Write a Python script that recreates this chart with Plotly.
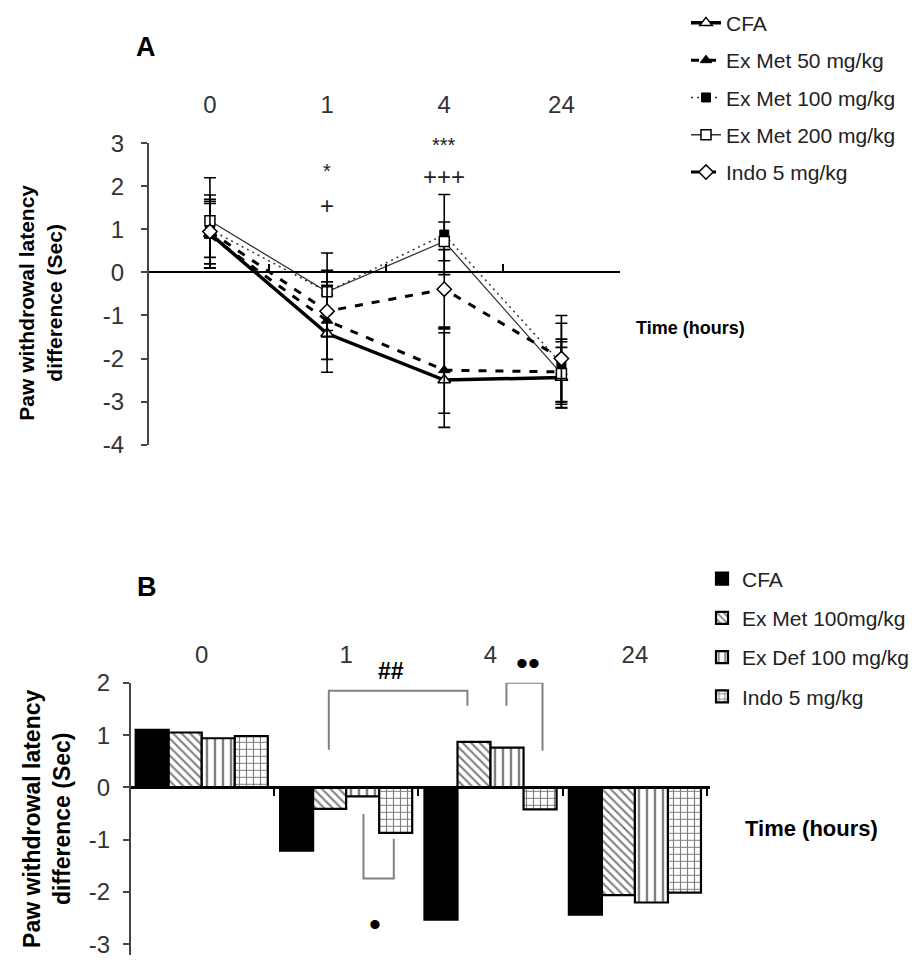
import plotly.graph_objects as go

W, H = 914, 968

# ---------------- data ----------------
time_labels = ["0", "1", "4", "24"]
xpos = [0, 1, 2, 3]

# Panel A (line chart)
a_names = ["CFA", "Ex Met 50 mg/kg", "Ex Met 100 mg/kg", "Ex Met 200 mg/kg", "Indo 5 mg/kg"]
a_cfa = [0.90, -1.42, -2.50, -2.44]
a_met50 = [0.85, -1.12, -2.27, -2.31]
a_met100 = [1.00, -0.45, 0.88, -2.12]
a_met200 = [1.20, -0.45, 0.72, -2.35]
a_indo = [0.95, -0.90, -0.39, -2.00]
a_cfa_err = [0.80, 0.90, 1.10, 0.70]
a_met50_err = [0.75, 0.90, 1.00, 0.70]
a_met100_err = [0.65, 0.90, 0.93, 0.94]
a_met200_err = [1.00, 0.50, 0.45, 0.80]
a_indo_err = [0.85, 0.60, 0.92, 1.00]
a_ytick_vals = [-4, -3, -2, -1, 0, 1, 2, 3]
a_ytick_text = ["-4", "-3", "-2", "-1", "0", "1", "2", "3"]

a_sig_text = ["*", "+", "***", "+++"]
a_sig_x = [1, 1, 2, 2]
a_sig_y = [2.35, 1.56, 2.96, 2.24]

# Panel B (bar chart)
b_names = ["CFA", "Ex Met 100mg/kg", "Ex Def 100 mg/kg", "Indo 5 mg/kg"]
b_cfa = [1.10, -1.21, -2.53, -2.43]
b_met100 = [1.05, -0.41, 0.87, -2.06]
b_def100 = [0.94, -0.17, 0.76, -2.20]
b_indo = [0.98, -0.87, -0.42, -2.01]
b_ytick_vals = [-3, -2, -1, 0, 1, 2]
b_ytick_text = ["-3", "-2", "-1", "0", "1", "2"]

b_bracket_x = [[0.88, 0.88, 1.84, 1.84], [2.11, 2.11, 2.36, 2.36], [1.12, 1.12, 1.33, 1.33]]
b_bracket_y = [[0.72, 1.85, 1.85, 1.56], [1.56, 2.00, 2.00, 0.70], [-0.51, -1.74, -1.74, -0.98]]
b_sig_text = ["##", "\u2022\u2022", "\u2022"]
b_sig_x = [1.31, 2.26, 1.20]
b_sig_y = [2.22, 2.37, -2.62]

# ---------------- layout geometry (pixels) ----------------
def px(x):
    return x / W

def py(y):
    return 1 - y / H

A_x0, A_x1, A_ytop, A_ybot = 149, 620, 133, 443
B_x0, B_x1, B_ytop, B_ybot = 131, 710, 688, 967.8
A_yr = [-4, 3]
B_yr = [-3.2, 2]
A_xr = [-0.52, 3.5]
B_xr = [-0.49, 3.52]

FONT = "Liberation Sans, Arial, sans-serif"

yA0, yA1 = py(A_ybot), py(A_ytop)
yB0, yB1 = py(B_ybot), py(B_ytop)


def a_to_paper(v):
    return yA0 + (yA1 - yA0) * (v - A_yr[0]) / (A_yr[1] - A_yr[0])


def b_to_paper(v):
    return yB0 + (yB1 - yB0) * (v - B_yr[0]) / (B_yr[1] - B_yr[0])


zeroA = a_to_paper(0)
zeroB = b_to_paper(0)

fig = go.Figure()

# ---------------- Panel A traces ----------------
a_vals = [a_cfa, a_met50, a_met100, a_met200, a_indo]
a_errs = [a_cfa_err, a_met50_err, a_met100_err, a_met200_err, a_indo_err]
a_line = [
    dict(color="black", width=3.5, dash="solid"),
    dict(color="black", width=3, dash="8px,9px"),
    dict(color="#333333", width=1.5, dash="2px,4px"),
    dict(color="#333333", width=1.3, dash="solid"),
    dict(color="black", width=3, dash="8px,9px"),
]
a_marker = [
    dict(symbol="triangle-up", size=11, color="white", line=dict(color="black", width=1.5)),
    dict(symbol="triangle-up", size=10, color="black", line=dict(color="black", width=1)),
    dict(symbol="square", size=9, color="black", line=dict(color="black", width=1)),
    dict(symbol="square", size=10, color="white", line=dict(color="black", width=1.5)),
    dict(symbol="diamond", size=11, color="white", line=dict(color="black", width=1.5)),
]
for i, name in enumerate(a_names):
    fig.add_trace(go.Scatter(
        x=xpos, y=a_vals[i], name=name, mode="lines+markers",
        line=a_line[i], marker=a_marker[i],
        error_y=dict(type="data", array=a_errs[i], color="black", thickness=1.6, width=6),
        xaxis="x", yaxis="y", legend="legend", legendgroup="a%d" % i,
    ))

# invisible helper so the zero-line axis of panel A is drawn
fig.add_trace(go.Scatter(x=xpos, y=a_cfa, mode="markers", marker=dict(opacity=0),
                         showlegend=False, hoverinfo="skip", xaxis="x3", yaxis="y"))

# ---------------- Panel B traces ----------------
b_vals = [b_cfa, b_met100, b_def100, b_indo]
b_pattern = [
    dict(shape=""),
    dict(shape="\\", size=6, solidity=0.35, fgcolor="black", bgcolor="white"),
    dict(shape="|", size=8, solidity=0.3, fgcolor="black", bgcolor="white"),
    dict(shape="+", size=7, solidity=0.3, fgcolor="black", bgcolor="white"),
]
for i, name in enumerate(b_names):
    fig.add_trace(go.Bar(
        x=xpos, y=b_vals[i], name=name,
        marker=dict(color="black" if i == 0 else "white",
                    line=dict(color="black", width=2.2), pattern=b_pattern[i]),
        xaxis="x2", yaxis="y2", legend="legend2", legendgroup="b%d" % i,
    ))

for bx, by in zip(b_bracket_x, b_bracket_y):
    fig.add_trace(go.Scatter(
        x=bx, y=by, mode="lines", line=dict(color="#808080", width=2),
        showlegend=False, hoverinfo="skip", xaxis="x2", yaxis="y2", cliponaxis=False,
    ))

fig.add_trace(go.Scatter(x=xpos, y=b_cfa, mode="markers", marker=dict(opacity=0),
                         showlegend=False, hoverinfo="skip", xaxis="x4", yaxis="y2"))

# ---------------- annotations ----------------
ann = []
for t, x, y in zip(a_sig_text, a_sig_x, a_sig_y):
    ann.append(dict(text=t, x=x, y=a_to_paper(y), xref="x", yref="paper", showarrow=False,
                    xanchor="center", yanchor="middle",
                    font=dict(family=FONT, size=24 if "+" in t else 20, color="#222222")))
for t, x, y in zip(b_sig_text, b_sig_x, b_sig_y):
    ann.append(dict(text="<b>%s</b>" % t if t == "##" else t, x=x, y=b_to_paper(y),
                    xref="x2", yref="paper", showarrow=False,
                    xanchor="center", yanchor="middle",
                    font=dict(family=FONT, size=23 if t == "##" else 34, color="black")))


def pann(text, x, y, size, xanchor="center", angle=0):
    return dict(text=text, x=px(x), y=py(y), xref="paper", yref="paper", showarrow=False,
                xanchor=xanchor, yanchor="middle", textangle=angle,
                font=dict(family=FONT, size=size, color="black"))


ytitle = "<b>Paw withdrowal latency<br>difference (Sec)</b>"
ann += [
    pann("<b>A</b>", 146, 34, 27),
    pann("<b>B</b>", 147, 589, 27),
    pann(ytitle, 40, 297, 21, angle=-90),
    pann(ytitle, 47, 828, 23, angle=-90),
    pann("<b>Time (hours)</b>", 634, 323, 18, xanchor="left"),
    pann("<b>Time (hours)</b>", 743, 838, 22, xanchor="left"),
]

tickfont = dict(family=FONT, size=24, color="#333333")

fig.update_layout(
    width=W, height=H, margin=dict(l=0, r=0, t=0, b=0),
    paper_bgcolor="white", plot_bgcolor="rgba(0,0,0,0)",
    font=dict(family=FONT, color="black"),
    barmode="group", bargap=0.085, bargroupgap=0,
    annotations=ann,
    # Panel A axes
    xaxis=dict(domain=[px(A_x0), px(A_x1)], range=A_xr, anchor="y", side="top",
               tickvals=xpos, ticktext=time_labels, ticks="", showline=False,
               showgrid=False, zeroline=False, tickfont=tickfont, ticklabelstandoff=24),
    yaxis=dict(domain=[yA0, yA1], range=A_yr, anchor="x", tickvals=a_ytick_vals,
               ticktext=a_ytick_text,
               showline=True, linecolor="#444444", linewidth=2, ticks="outside",
               ticklen=6, tickwidth=2, tickcolor="#444444", showgrid=False,
               zeroline=False, tickfont=tickfont, ticklabelstandoff=12),
    xaxis3=dict(overlaying="x", anchor="free", position=zeroA, range=A_xr,
                tickvals=[0.5, 1.5, 2.5, 3.5], ticks="inside", ticklen=7, tickwidth=2,
                tickcolor="black", showticklabels=False, showline=True,
                linecolor="black", linewidth=2, showgrid=False, zeroline=False),
    # Panel B axes
    xaxis2=dict(domain=[px(B_x0), px(B_x1)], range=B_xr, anchor="y2", side="top",
                tickvals=xpos, ticktext=time_labels, ticks="", showline=False,
                showgrid=False, zeroline=False, tickfont=tickfont, ticklabelstandoff=14),
    yaxis2=dict(domain=[yB0, yB1], range=B_yr, anchor="x2", tickvals=b_ytick_vals,
                ticktext=b_ytick_text,
                showline=True, linecolor="#444444", linewidth=2, ticks="outside",
                ticklen=6, tickwidth=2, tickcolor="#444444", showgrid=False,
                zeroline=False, tickfont=tickfont, ticklabelstandoff=8),
    xaxis4=dict(overlaying="x2", anchor="free", position=zeroB, range=B_xr,
                tickvals=[0.5, 1.5, 2.5, 3.5], ticks="outside", ticklen=7, tickwidth=2,
                tickcolor="black", showticklabels=False, showline=True,
                linecolor="black", linewidth=3, showgrid=False, zeroline=False),
    legend=dict(x=px(686), y=1.012, xanchor="left", yanchor="top",
                font=dict(family=FONT, size=21, color="#222222"), bgcolor="rgba(0,0,0,0)",
                tracegroupgap=7, traceorder="grouped"),
    legend2=dict(x=px(702), y=py(560), xanchor="left", yanchor="top",
                 font=dict(family=FONT, size=21, color="#222222"), bgcolor="rgba(0,0,0,0)",
                 tracegroupgap=9, traceorder="grouped"),
    showlegend=True,
)

fig.write_html("out.html")
